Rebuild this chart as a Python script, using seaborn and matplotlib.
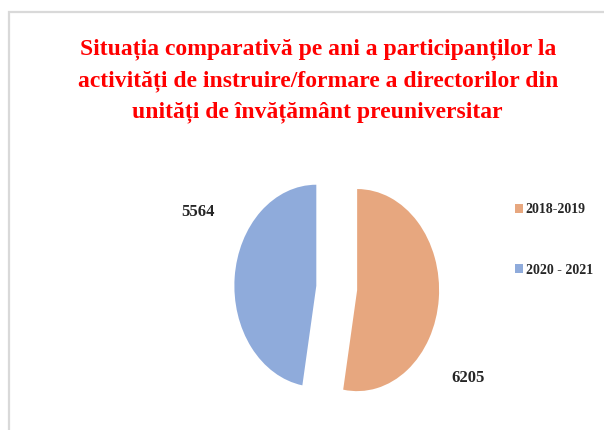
import matplotlib
matplotlib.use("Agg")
import matplotlib.pyplot as plt
import seaborn as sns
from matplotlib.patches import Rectangle

# data
years = ["2018-2019", "2020 - 2021"]
participants = [6205, 5564]
colors = ["#E7A77F", "#8FABDB"]

title = ("Situația comparativă pe ani a participanților la\n"
         "activități de instruire/formare a directorilor din\n"
         "unități de învățământ preuniversitar")

sns.set_theme(style="white")
plt.rcParams["font.family"] = ["Liberation Serif", "DejaVu Serif"]

fig = plt.figure(figsize=(6.04, 4.30), dpi=100)

# light grey frame of the chart area
fig.patches.append(Rectangle((9 / 604, -0.02), 1.0, 1 - 12 / 430 + 0.02,
                             transform=fig.transFigure, fill=False,
                             edgecolor="#d9d9d9", linewidth=1.6))

fig.text(0.526, 0.91, title, ha="center", va="top", color="#FF0000",
         fontsize=17, fontweight="bold", linespacing=1.62)

# pie axes (stretched vertically like the original)
ax = fig.add_axes([0.354, 0.0014, 0.407, 0.658])
wedges, _ = ax.pie(participants, colors=colors, startangle=90,
                   counterclock=False, explode=[0.25, 0.25],
                   wedgeprops=dict(linewidth=0))
ax.set_aspect("auto")
ax.set_xlim(-1.5, 1.5)
ax.set_ylim(-1.4, 1.4)
ax.axis("off")

# value labels
fig.text(0.328, 0.507, str(participants[1]), ha="center", va="center",
         fontsize=12, fontweight="bold")
fig.text(0.775, 0.121, str(participants[0]), ha="center", va="center",
         fontsize=12, fontweight="bold")

leg = fig.legend(wedges, years, loc="upper left", bbox_to_anchor=(0.843, 0.54),
                 frameon=False, handlelength=0.6, handleheight=0.6,
                 handletextpad=0.2, labelspacing=3.4, borderaxespad=0,
                 prop=dict(size=10, weight="bold"))

fig.savefig("out.png", dpi=100)
